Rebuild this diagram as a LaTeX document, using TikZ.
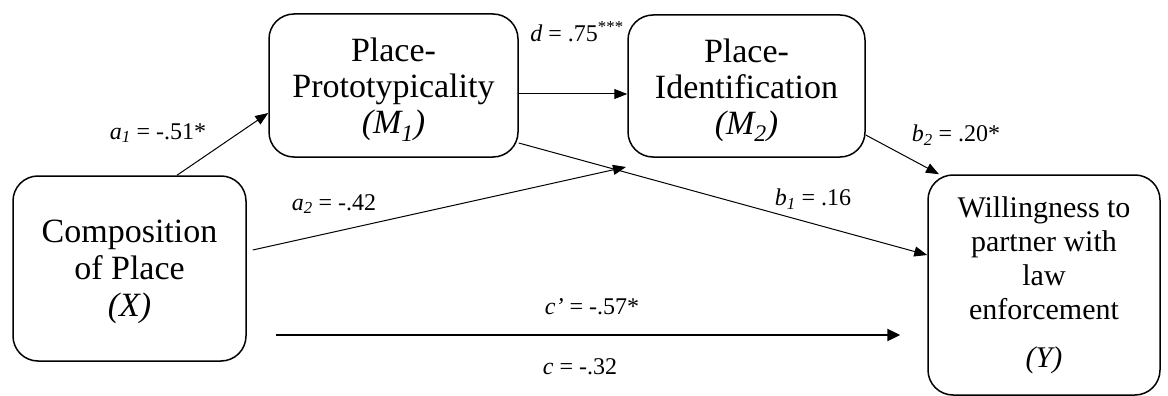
\documentclass[tikz,border=0pt]{standalone}
\usepackage{fontspec}
\setmainfont{Liberation Serif}
\usetikzlibrary{arrows.meta}
\tikzset{
  varbox/.style={draw, line width=1.5pt, rounded corners=25pt, align=center,
    inner sep=0pt, font=\fontsize{34}{36}\selectfont},
  lbl/.style={inner sep=0pt, font=\fontsize{24}{26}\selectfont},
  arr/.style={line width=1pt, -{Triangle[length=13pt,width=10pt]}},
  thickarr/.style={line width=2.4pt, -{Triangle[length=13pt,width=12pt]}}
}
\begin{document}
\begin{tikzpicture}[x=1pt,y=-1pt]
\useasboundingbox (0,0) rectangle (1168,396);
% boxes
\node[varbox, minimum width=249pt, minimum height=143pt] (M1) at (393.5,85.5)
  {\rule{0pt}{32pt}Place-\\Prototypicality\\\textit{(M\textsubscript{1})}};
\node[varbox, minimum width=237pt, minimum height=142pt] (M2) at (746.5,86)
  {\rule{0pt}{32pt}Place-\\Identification\\\textit{(M\textsubscript{2})}};
\node[varbox, minimum width=233pt, minimum height=185pt,
  font=\fontsize{34}{37}\selectfont] (X) at (129.5,268.5)
  {\rule{0pt}{30pt}Composition\\of Place\\\textit{(X)}};
\node[varbox, minimum width=232pt, minimum height=220pt,
  font=\fontsize{30}{34}\selectfont] (Y) at (1044,285)
  {Willingness to\\partner with\\law\\enforcement\\[14pt]\textit{(Y)}};
\coordinate (a2e) at (626,167);
% connectors
\draw[arr] ([xshift=47.5pt]X.north) -- ([yshift=-27.5pt]M1.west);
\draw[arr] ([yshift=-8.5pt]M1.east) -- ([yshift=-8.5pt]M1.east -| M2.west);
\draw[arr] ([yshift=-57.5pt]M1.east) -- ([yshift=30pt]Y.west);
\draw[arr] ([xshift=6pt,yshift=18.5pt]X.east) -- (a2e);
\draw[arr] ([yshift=-49pt]M2.east) -- ([xshift=-105pt]Y.north);
\draw[thickarr] ([xshift=29pt,yshift=-66.5pt]X.east) -- ([xshift=-27pt,yshift=-50pt]Y.west);
% labels
\node[lbl] (la1) at (158,133) {\textit{a\textsubscript{1}} = -.51*};
\node[lbl] (ld) at (577,32) {\textit{d} = .75\textsuperscript{***}};
\node[lbl] (la2) at (334,204) {\textit{a\textsubscript{2}} = -.42};
\node[lbl] (lb1) at (813,199) {\textit{b\textsubscript{1}} = .16};
\node[lbl] (lb2) at (956,135) {\textit{b\textsubscript{2}} = .20*};
\node[lbl] (lcp) at (592,307) {\textit{c’} = -.57*};
\node[lbl] (lc) at (580,367) {\textit{c} = -.32};
\end{tikzpicture}
\end{document}
